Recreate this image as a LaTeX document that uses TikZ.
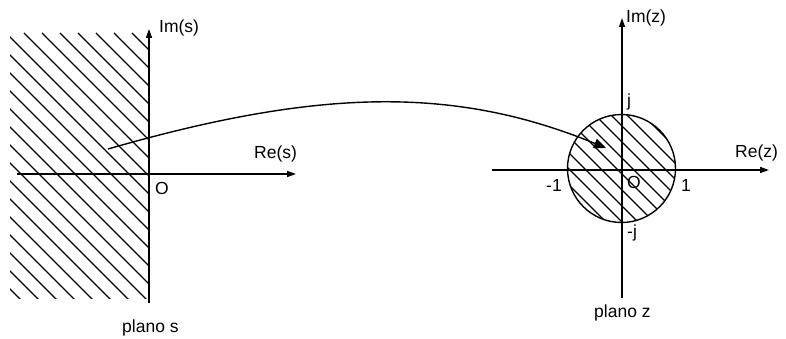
\documentclass[tikz,border=0pt]{standalone}
\usepackage{fontspec}
\setmainfont{Liberation Sans}
\usetikzlibrary{arrows.meta}
\begin{document}
\begin{tikzpicture}[x=1pt,y=-1pt,
  axis/.style={line width=1.4pt,-{Triangle[length=9pt,width=6pt]}},
  hatchline/.style={line width=1.2pt},
  lbl/.style={inner sep=0pt,font=\fontsize{17.5}{20}\selectfont},
  map/.style={line width=1.4pt,-{Triangle[length=12pt,width=10pt]}}]
\useasboundingbox (0,0) rectangle (786,339);
% left hatched half plane
\begin{scope}
  \clip (10,33) rectangle (149,298);
  \foreach \k in {-300,-282,...,160} {
    \draw[hatchline] (\k,33) -- ++(300,300);
  }
\end{scope}
% s-plane axes
\coordinate (sIb) at (149,303);
\coordinate (sIt) at (149,29);
\coordinate (sRl) at (17,174);
\coordinate (sRr) at (296,174);
\draw[axis] (sIb) -- (sIt);
\draw[axis] (sRl) -- (sRr);
\node[lbl,anchor=west] (ims) at (159,28) {Im(s)};
\node[lbl,anchor=west] (res) at (254,154) {Re(s)};
\node[lbl,anchor=west] (os) at (155,188) {O};
\node[lbl,anchor=west] (plas) at (122,328) {plano s};
% z-plane
\coordinate (zc) at (621.5,168.5);
\begin{scope}
  \clip (zc) circle (54);
  \foreach \k in {436,452,...,700} {
    \draw[hatchline] (\k,100) -- ++(150,150);
  }
\end{scope}
\draw[line width=1.4pt] (zc) circle (54);
\coordinate (zIb) at (622,298);
\coordinate (zIt) at (622,18);
\coordinate (zRl) at (492,170);
\coordinate (zRr) at (769,170);
\draw[axis] (zIb) -- (zIt);
\draw[axis] (zRl) -- (zRr);
\node[lbl,anchor=west] (imz) at (626,18) {Im(z)};
\node[lbl,anchor=west] (rez) at (735,153) {Re(z)};
\node[lbl,anchor=west] (jp) at (627,102) {j};
\node[lbl,anchor=west] (jm) at (627,233) {-j};
\node[lbl,anchor=west] (m1) at (546,185) {-1};
\node[lbl,anchor=west] (p1) at (681,185) {1};
\node[lbl,anchor=west] (oz) at (627,182) {O};
\node[lbl,anchor=west] (plaz) at (594,313) {plano z};
% mapping arrow
\coordinate (mapA) at (108,149);
\coordinate (mapB) at (606,148);
\draw[map] (mapA) .. controls (320,88) and (455,86) .. (mapB);
\end{tikzpicture}
\end{document}
